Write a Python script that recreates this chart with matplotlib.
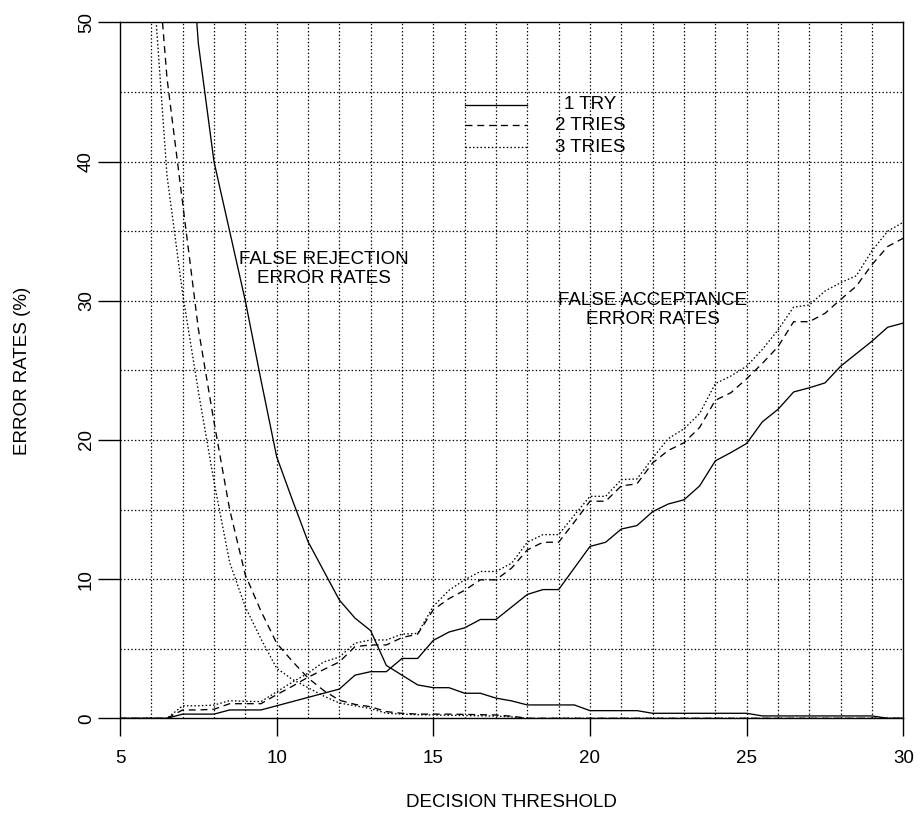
import matplotlib
matplotlib.use("Agg")
import matplotlib.pyplot as plt
from matplotlib.lines import Line2D

plt.rcParams['font.family'] = ['Liberation Sans', 'DejaVu Sans']
plt.rcParams['lines.scale_dashes'] = False

thresholds = [5.0, 5.5, 6.0, 6.5, 7.0, 7.5, 8.0, 8.5, 9.0, 9.5,
              10.0, 10.5, 11.0, 11.5, 12.0, 12.5, 13.0, 13.5, 14.0, 14.5,
              15.0, 15.5, 16.0, 16.5, 17.0, 17.5, 18.0, 18.5, 19.0, 19.5,
              20.0, 20.5, 21.0, 21.5, 22.0, 22.5, 23.0, 23.5, 24.0, 24.5,
              25.0, 25.5, 26.0, 26.5, 27.0, 27.5, 28.0, 28.5, 29.0, 29.5, 30.0]

fr_1try = [100, 96, 90, 80, 64, 48.5, 40, 35, 30, 24.3,
           18.8, 15.7, 12.7, 10.6, 8.5, 7.2, 6.3, 3.8, 3.1, 2.4,
           2.2, 2.2, 1.8, 1.8, 1.45, 1.25, 0.96, 0.96, 0.96, 0.96,
           0.55, 0.55, 0.55, 0.55, 0.36, 0.36, 0.36, 0.36, 0.36, 0.36,
           0.36, 0.17, 0.17, 0.17, 0.17, 0.17, 0.17, 0.17, 0.17, 0.0, 0.0]

fr_2tries = [95, 80, 60, 46, 37, 28, 21.3, 15, 10.3, 7.7,
             5.4, 4.1, 2.9, 2.0, 1.3, 1.0, 0.83, 0.48, 0.36, 0.3,
             0.3, 0.3, 0.28, 0.26, 0.24, 0.15, 0, 0, 0, 0,
             0, 0, 0, 0, 0, 0, 0, 0, 0, 0,
             0, 0, 0, 0, 0, 0, 0, 0, 0, 0, 0]

fr_3tries = [90, 72, 55, 39, 30.5, 23.5, 17, 11.2, 8.0, 5.7,
             3.6, 2.8, 2.2, 1.6, 1.1, 0.9, 0.7, 0.36, 0.3, 0.26,
             0.24, 0.22, 0.2, 0.18, 0.16, 0.1, 0, 0, 0, 0,
             0, 0, 0, 0, 0, 0, 0, 0, 0, 0,
             0, 0, 0, 0, 0, 0, 0, 0, 0, 0, 0]

fa_1try = [0, 0, 0, 0, 0.3, 0.3, 0.3, 0.6, 0.6, 0.6,
           0.9, 1.2, 1.5, 1.8, 2.1, 3.1, 3.35, 3.35, 4.3, 4.3,
           5.6, 6.2, 6.5, 7.1, 7.1, 8.0, 8.9, 9.25, 9.25, 10.8,
           12.35, 12.65, 13.6, 13.85, 14.85, 15.4, 15.7, 16.7, 18.5, 19.1,
           19.75, 21.3, 22.2, 23.45, 23.75, 24.1, 25.3, 26.2, 27.1, 28.1, 28.4]

fa_2tries = [0, 0, 0, 0, 0.6, 0.6, 0.65, 1.05, 1.05, 1.05,
             1.7, 2.3, 2.95, 3.5, 4.05, 5.15, 5.27, 5.27, 5.8, 6.05,
             7.8, 8.6, 9.2, 9.95, 9.95, 10.8, 12.1, 12.65, 12.65, 14.1,
             15.6, 15.6, 16.7, 16.85, 18.35, 19.25, 19.8, 20.9, 22.85, 23.4,
             24.4, 25.5, 26.7, 28.5, 28.5, 29.1, 30.1, 31.05, 32.6, 33.9, 34.5]

fa_3tries = [0, 0, 0, 0, 0.9, 0.9, 0.95, 1.27, 1.22, 1.2,
             1.9, 2.6, 3.24, 4.05, 4.4, 5.4, 5.63, 5.63, 6.05, 6.1,
             8.05, 9.2, 9.95, 10.55, 10.55, 11.15, 12.65, 13.2, 13.2, 14.6,
             15.95, 15.95, 17.15, 17.2, 18.7, 20.1, 20.8, 21.9, 24.05, 24.6,
             25.3, 26.5, 27.9, 29.55, 29.7, 30.7, 31.3, 31.8, 33.6, 35.0, 35.65]

series_labels = ["1 TRY", "2 TRIES", "3 TRIES"]
x_ticks = [5, 10, 15, 20, 25, 30]
y_ticks = [0, 10, 20, 30, 40, 50]

FS = 13.5
LW = 0.95
styles = ['-', (0, (5, 3.5)), (0, (1.1, 1.6))]

fig = plt.figure(figsize=(9.22, 8.21), dpi=100)
ax = fig.add_axes([120 / 922, 1 - 718.3 / 821, (903.3 - 120) / 922, (718.3 - 22.5) / 821])
ax.set_xlim(5, 30)
ax.set_ylim(0, 50)

# grid
for gx in range(6, 30):
    ax.axvline(gx, color='black', lw=0.9, ls=(0, (1.0, 1.6)), zorder=1)
for gy in range(5, 50, 5):
    ax.axhline(gy, color='black', lw=0.9, ls=(0, (1.0, 1.6)), zorder=1)

fr = [fr_1try, fr_2tries, fr_3tries]
fa = [fa_1try, fa_2tries, fa_3tries]
for i in range(3):
    ax.plot(thresholds, fr[i], color='black', lw=LW, ls=styles[i], zorder=3)
    ax.plot(thresholds, fa[i], color='black', lw=LW, ls=styles[i], zorder=3)

for s in ax.spines.values():
    s.set_linewidth(1.0)
    s.set_color('black')

ax.set_xticks(x_ticks)
ax.set_yticks(y_ticks)
ax.set_xticklabels([str(v) for v in x_ticks], fontsize=FS)
ax.set_yticklabels([str(v) for v in y_ticks], fontsize=FS, rotation=90, va='center')
ax.tick_params(axis='x', length=13, width=1.0, pad=10, direction='out')
ax.tick_params(axis='y', length=16, width=1.0, pad=2, direction='out')

ax.set_xlabel("DECISION THRESHOLD", fontsize=FS, labelpad=19)
ax.set_ylabel("ERROR RATES (%)", fontsize=FS, labelpad=34)

ax.text(11.5, 32.3, "FALSE REJECTION\nERROR RATES", ha='center', va='center',
        fontsize=FS, linespacing=1.15, zorder=4)
ax.text(22.0, 29.35, "FALSE ACCEPTANCE\nERROR RATES", ha='center', va='center',
        fontsize=FS, linespacing=1.15, zorder=4)

# legend (manual, R-style: key lines then centred labels)
leg_rows = [44.1, 42.6, 41.05]
for i, lab in enumerate(series_labels):
    ax.add_line(Line2D([16.0, 18.0], [leg_rows[i]] * 2, color='black', lw=LW, ls=styles[i], zorder=4))
    ax.text(20.0, leg_rows[i], lab, ha='center', va='center', fontsize=FS, zorder=4)

fig.savefig("out.png", dpi=100)
